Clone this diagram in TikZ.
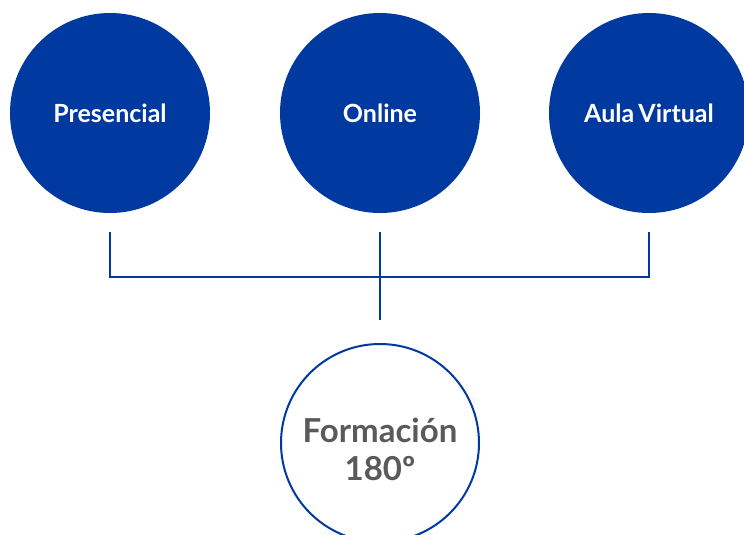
\documentclass[tikz,border=0pt]{standalone}
\usepackage{fontspec}
\setmainfont{Lato}
\usepackage{xcolor}
\definecolor{uniblue}{RGB}{0,57,160}
\definecolor{txtgray}{RGB}{90,90,90}
\tikzset{
  mode/.style={circle,fill=uniblue,minimum size=200pt,inner sep=0pt,
    text=white,font=\bfseries\fontsize{25}{28}\selectfont},
  goal/.style={circle,draw=uniblue,line width=2pt,fill=white,minimum size=198pt,
    inner sep=0pt,align=center,text=txtgray,font=\bfseries\fontsize{33}{38}\selectfont},
  link/.style={draw=uniblue,line width=2.2pt}
}
\begin{document}
\begin{tikzpicture}[x=1pt,y=-1pt]
  \useasboundingbox (0,0) rectangle (744,535);

  % Modalities
  \node[mode] (pres) at (110,113) {Presencial};
  \node[mode] (onl) at (380,113) {Online};
  \node[mode] (aula) at (649,113) {Aula\,Virtual};

  % Result
  \node[goal] (form) at (380,443) {\rule{0pt}{37pt}Formación\\180º};

  % Connectors
  \coordinate (hub) at (380,277);
  \draw[link] ([yshift=-19pt]pres.south) |- (hub) -| ([yshift=-19pt]aula.south);
  \draw[link] ([yshift=-19pt]onl.south) -- ([yshift=23pt]form.north);
\end{tikzpicture}
\end{document}
